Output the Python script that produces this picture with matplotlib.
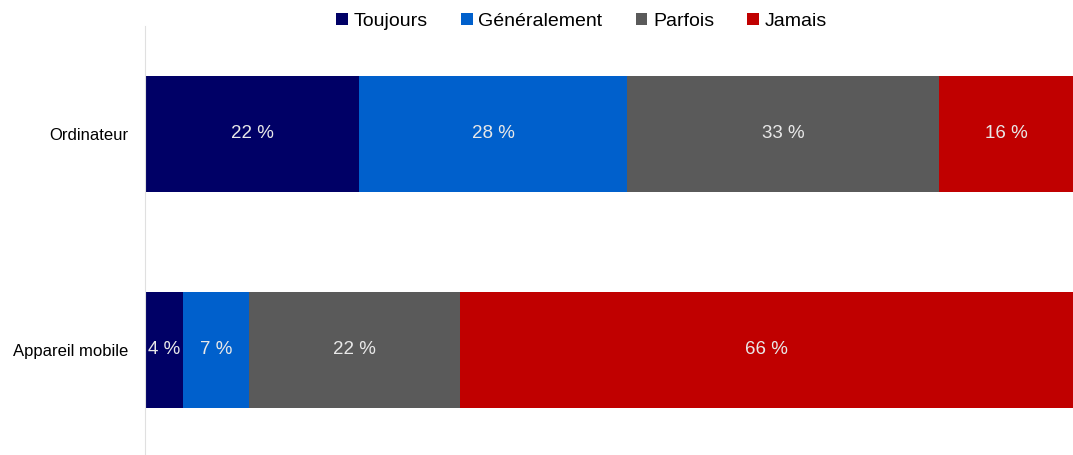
import matplotlib
matplotlib.use('Agg')
import matplotlib.pyplot as plt
from matplotlib.patches import Patch

plt.rcParams['font.family'] = ['Liberation Sans', 'DejaVu Sans']

CATEGORIES = ['Appareil mobile', 'Ordinateur']
SERIES = ['Toujours', 'Généralement', 'Parfois', 'Jamais']
# bar widths (per series, bottom row first)
VALUES = {
    'Toujours':     [4.1, 23.1],
    'Généralement': [7.1, 28.8],
    'Parfois':      [22.7, 33.7],
    'Jamais':       [66.1, 14.4],
}
LABELS = {
    'Toujours':     ['4 %', '22 %'],
    'Généralement': ['7 %', '28 %'],
    'Parfois':      ['22 %', '33 %'],
    'Jamais':       ['66 %', '16 %'],
}
COLORS = {
    'Toujours':     '#000066',
    'Généralement': '#0060CC',
    'Parfois':      '#5A5A5A',
    'Jamais':       '#C00000',
}

fig = plt.figure(figsize=(10.73, 4.55), dpi=100)
ax = fig.add_axes([145 / 1073, -3 / 455, 928 / 1073, 432 / 455])

ypos = list(range(len(CATEGORIES)))
left = [0.0] * len(CATEGORIES)
for s in SERIES:
    vals = VALUES[s]
    bars = ax.barh(ypos, vals, left=left, height=0.54, color=COLORS[s],
                   edgecolor='none')
    for b, txt in zip(bars, LABELS[s]):
        ax.text(b.get_x() + b.get_width() / 2, b.get_y() + b.get_height() / 2,
                txt, ha='center', va='center', color='#E8E8E8', fontsize=13.5)
    left = [l + v for l, v in zip(left, vals)]

ax.set_xlim(0, 100)
ax.set_ylim(-0.5, 1.5)
ax.set_yticks(ypos)
ax.set_yticklabels(CATEGORIES, fontsize=12)
ax.set_xticks([])
ax.tick_params(axis='y', length=0, pad=12)
ax.spines[['top', 'right', 'bottom']].set_visible(False)
ax.spines['left'].set_color('#E0E0E0')

handles = [Patch(facecolor=COLORS[s], edgecolor='none') for s in SERIES]
fig.legend(handles, SERIES, loc='upper center', ncol=4, frameon=False,
           bbox_to_anchor=(0.542, 1.01), fontsize=14, handlelength=0.6,
           handleheight=0.6, handletextpad=0.3, columnspacing=1.7)

fig.savefig('out.png', dpi=100)
